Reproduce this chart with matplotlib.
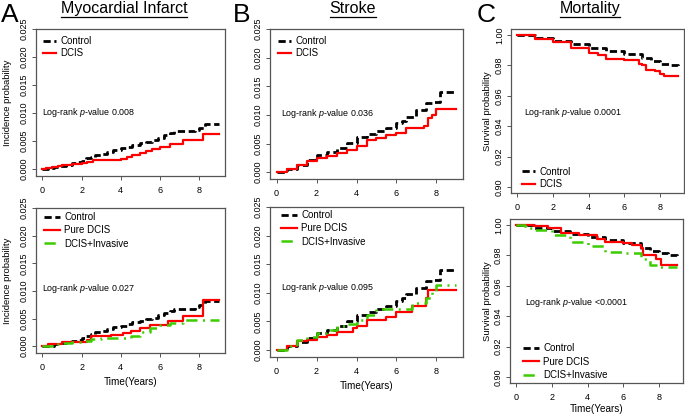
import matplotlib
matplotlib.use("Agg")
import matplotlib.pyplot as plt
from matplotlib.lines import Line2D

plt.rcParams['font.family'] = ['Liberation Sans', 'DejaVu Sans']
plt.rcParams['mathtext.fontset'] = 'custom'
plt.rcParams['mathtext.rm'] = 'Liberation Sans'
plt.rcParams['mathtext.it'] = 'Liberation Sans:italic'

# ---------------- data (step curves) ----------------
# A: Myocardial infarct, top
mi_ctrl_t = [0, 0.3, 0.6, 0.9, 1.2, 1.5, 1.8, 2.0, 2.2, 2.5, 2.7, 3.0, 3.3, 3.6, 4.0, 4.3, 4.6, 5.0, 5.3, 5.6, 5.9, 6.2, 6.5, 6.7, 7.8, 8.0, 8.3, 9.0]
mi_ctrl_v = [0, 0.0001, 0.0003, 0.0006, 0.0008, 0.0010, 0.0012, 0.0015, 0.0019, 0.0022, 0.0025, 0.0027, 0.0031, 0.0034, 0.0037, 0.0040, 0.0043, 0.0046, 0.0049, 0.0051, 0.0056, 0.0060, 0.0064, 0.0068, 0.0070, 0.0074, 0.0081, 0.0081]
mi_dcis_t = [0, 0.2, 0.5, 0.8, 1.0, 1.5, 2.0, 2.3, 2.6, 3.5, 4.0, 4.3, 4.6, 5.0, 5.3, 5.6, 6.0, 6.5, 7.2, 8.2, 9.0]
mi_dcis_v = [0, 0.0002, 0.0004, 0.0006, 0.0008, 0.0009, 0.0010, 0.0012, 0.0016, 0.0016, 0.0017, 0.0022, 0.0025, 0.0029, 0.0033, 0.0036, 0.0039, 0.0044, 0.0051, 0.0063, 0.0063]
# A bottom
mi_pure_t = [0, 0.3, 1.0, 2.3, 2.5, 3.5, 4.1, 4.5, 5.0, 5.5, 6.4, 7.2, 8.2, 9.0]
mi_pure_v = [0, 0.0004, 0.0007, 0.0012, 0.0018, 0.0021, 0.0024, 0.0027, 0.0033, 0.0038, 0.0045, 0.0054, 0.0083, 0.0083]
mi_inv_t = [0, 0.5, 1.0, 1.5, 2.0, 2.5, 3.0, 4.5, 5.0, 5.5, 6.0, 6.5, 7.2, 9.0]
mi_inv_v = [0, 0.0003, 0.0006, 0.0008, 0.0010, 0.0013, 0.0015, 0.0018, 0.0026, 0.0033, 0.0039, 0.0042, 0.0048, 0.0048]

# B: Stroke
st_ctrl_t = [0, 0.5, 1.0, 1.5, 2.0, 2.5, 3.0, 3.5, 4.0, 4.5, 5.0, 5.5, 6.0, 6.3, 6.5, 7.0, 7.5, 7.9, 8.2, 9.0]
st_ctrl_v = [0, 0.0006, 0.0013, 0.0021, 0.0030, 0.0035, 0.0042, 0.0051, 0.0061, 0.0066, 0.0071, 0.0077, 0.0085, 0.0090, 0.0097, 0.0109, 0.0120, 0.0123, 0.0140, 0.0140]
st_dcis_t = [0, 0.5, 1.0, 1.5, 2.0, 2.5, 3.0, 3.5, 4.0, 4.5, 5.0, 5.5, 6.0, 6.5, 7.4, 7.6, 7.8, 8.0, 9.0]
st_dcis_v = [0, 0.0006, 0.0013, 0.0019, 0.0025, 0.0029, 0.0034, 0.0038, 0.0045, 0.0056, 0.0059, 0.0065, 0.0069, 0.0077, 0.0080, 0.0094, 0.0100, 0.0110, 0.0110]
st_pure_t = [0, 0.5, 1.0, 1.5, 2.0, 2.5, 3.0, 3.8, 4.0, 4.5, 5.5, 6.0, 6.8, 7.5, 7.6, 9.0]
st_pure_v = [0, 0.0006, 0.0015, 0.0018, 0.0022, 0.0026, 0.0032, 0.0038, 0.0041, 0.0053, 0.0058, 0.0067, 0.0076, 0.0091, 0.0105, 0.0105]
st_inv_t = [0, 0.5, 1.0, 1.5, 2.0, 2.5, 3.0, 3.5, 4.0, 4.5, 5.0, 6.0, 6.8, 7.5, 7.8, 8.0, 9.0]
st_inv_v = [0, 0.0007, 0.0018, 0.0023, 0.0029, 0.0034, 0.0041, 0.0046, 0.0053, 0.0061, 0.0072, 0.0072, 0.0082, 0.0091, 0.0102, 0.0114, 0.0114]

# C: Mortality (survival probability)
mo_ctrl_t = [0, 1.0, 2.0, 3.0, 4.0, 5.0, 6.0, 7.0, 7.5, 8.0, 8.5, 9.0]
mo_ctrl_v = [1.0, 0.998, 0.996, 0.994, 0.9917, 0.9897, 0.9877, 0.985, 0.983, 0.981, 0.980, 0.979]
mo_dcis_t = [0, 1.0, 2.0, 3.0, 4.0, 4.5, 5.0, 6.0, 6.8, 7.0, 7.2, 7.7, 8.0, 8.2, 9.0]
mo_dcis_v = [1.0, 0.9976, 0.9954, 0.9914, 0.988, 0.9866, 0.9844, 0.9833, 0.981, 0.980, 0.9772, 0.9763, 0.9746, 0.973, 0.973]
mo_ctrl2_t = [0, 1.0, 2.0, 3.0, 4.0, 5.0, 6.0, 7.0, 7.5, 8.0, 8.5, 9.0]
mo_ctrl2_v = [1.0, 0.998, 0.9963, 0.9943, 0.9923, 0.990, 0.988, 0.985, 0.983, 0.9813, 0.980, 0.979]
mo_pure_t = [0, 1.0, 1.8, 2.5, 3.5, 4.5, 5.0, 6.0, 6.5, 7.0, 7.1, 7.8, 8.1, 9.0]
mo_pure_v = [1.0, 0.9993, 0.9978, 0.995, 0.9934, 0.9905, 0.989, 0.988, 0.9868, 0.9846, 0.980, 0.9774, 0.9736, 0.9736]
mo_inv_t = [0, 0.5, 1.0, 2.0, 3.0, 4.0, 5.0, 6.0, 7.0, 7.5, 8.0, 9.0]
mo_inv_v = [1.0, 0.9978, 0.9967, 0.9934, 0.989, 0.9862, 0.9824, 0.9813, 0.9774, 0.9736, 0.9725, 0.9725]

pvals = ["0.008", "0.027", "0.036", "0.095", "0.0001", "<0.0001"]
titles = ["Myocardial Infarct", "Stroke", "Mortality"]
letters = ["A", "B", "C"]

# ---------------- layout ----------------
W, H = 685, 417
fig = plt.figure(figsize=(W / 100, H / 100), dpi=100)

def box(l, r, t, b):
    return [l / W, 1 - b / H, (r - l) / W, (b - t) / H]

BLACK = 'black'
RED = '#ff0000'
GREEN = '#3ccc00'
SPINE = '#555555'

def style(ax, ylim, yticks, fmt):
    ax.set_xlim(-0.33, 9.33)
    ax.set_ylim(*ylim)
    ax.set_xticks([0, 2, 4, 6, 8])
    ax.set_yticks(yticks)
    ax.set_yticklabels([fmt % v for v in yticks], rotation=90, va='center')
    ax.tick_params(axis='both', labelsize=6.5, length=3, width=0.7, color=SPINE, direction='out', pad=2)
    ax.tick_params(axis='x', pad=4)
    for s in ax.spines.values():
        s.set_color(SPINE)
        s.set_linewidth(0.9)

def ctrl(ax, t, v, label="Control"):
    ax.step(t, v, where='post', color=BLACK, lw=2.0, ls=(0, (2.6, 1.3)), label=label)

def red(ax, t, v, label):
    ax.step(t, v, where='post', color=RED, lw=1.6, ls='-', label=label)

def green(ax, t, v, label="DCIS+Invasive"):
    ax.step(t, v, where='post', color=GREEN, lw=1.8, ls=(0, (4.5, 2.2, 0.8, 2.2)), label=label)

def legend(ax, loc, anchor, hl, ls):
    ax.legend(loc=loc, bbox_to_anchor=anchor, frameon=False, fontsize=7,
              handlelength=hl, handletextpad=0.5, labelspacing=ls,
              borderaxespad=0.0, borderpad=0.0)

def logrank(ax, x, y, p):
    ax.text(x, y, "Log-rank $\\it{p}$-value " + p, fontsize=6.4, ha='left', va='center')

inc_ticks = [0.0, 0.005, 0.010, 0.015, 0.020, 0.025]
surv_ticks = [0.90, 0.92, 0.94, 0.96, 0.98, 1.00]

# A top
axA1 = fig.add_axes(box(36, 225, 29, 176))
ctrl(axA1, mi_ctrl_t, mi_ctrl_v)
red(axA1, mi_dcis_t, mi_dcis_v, "DCIS")
style(axA1, (-0.00125, 0.025), inc_ticks, "%.3f")
legend(axA1, 'upper left', (7 / 189, 1 - 7 / 147), 1.3, 0.25)
logrank(axA1, 0.0, 0.0101, pvals[0])
axA1.set_ylabel("Incidence probability", fontsize=6.8)
axA1.yaxis.set_label_coords(-24 / 189, 0.5)

# A bottom
axA2 = fig.add_axes(box(36, 225, 208, 353))
ctrl(axA2, mi_ctrl_t, mi_ctrl_v)
red(axA2, mi_pure_t, mi_pure_v, "Pure DCIS")
green(axA2, mi_inv_t, mi_inv_v)
style(axA2, (-0.00124, 0.0245), inc_ticks, "%.3f")
legend(axA2, 'upper left', (8 / 189, 1 - 4 / 145), 1.6, 0.35)
logrank(axA2, 0.0, 0.0104, pvals[1])
axA2.set_ylabel("Incidence probability", fontsize=6.8)
axA2.yaxis.set_label_coords(-24 / 189, 0.5)
axA2.set_xlabel("Time(Years)", fontsize=7.2, labelpad=4)

# B top
axB1 = fig.add_axes(box(270, 463, 29, 179))
ctrl(axB1, st_ctrl_t, st_ctrl_v)
red(axB1, st_dcis_t, st_dcis_v, "DCIS")
style(axB1, (-0.0012, 0.0247), inc_ticks, "%.3f")
legend(axB1, 'upper left', (8 / 193, 1 - 7 / 150), 1.3, 0.25)
logrank(axB1, 0.2, 0.0103, pvals[2])

# B bottom
axB2 = fig.add_axes(box(270, 463, 207, 357))
ctrl(axB2, st_ctrl_t, st_ctrl_v)
red(axB2, st_pure_t, st_pure_v, "Pure DCIS")
green(axB2, st_inv_t, st_inv_v)
style(axB2, (-0.00124, 0.0249), inc_ticks, "%.3f")
legend(axB2, 'upper left', (11 / 193, 1 - 3 / 150), 1.6, 0.35)
logrank(axB2, 0.2, 0.0110, pvals[3])
axB2.set_xlabel("Time(Years)", fontsize=7.2, labelpad=4)

# C top
axC1 = fig.add_axes(box(511, 684, 29, 193))
ctrl(axC1, mo_ctrl_t, mo_ctrl_v)
red(axC1, mo_dcis_t, mo_dcis_v, "DCIS")
style(axC1, (0.896, 1.004), surv_ticks, "%.2f")
legend(axC1, 'lower left', (11 / 173, 4 / 164), 1.3, 0.25)
logrank(axC1, 0.4, 0.949, pvals[4])
axC1.set_ylabel("Survival probability", fontsize=6.8)
axC1.yaxis.set_label_coords(-19 / 173, 0.5)

# C bottom
axC2 = fig.add_axes(box(510, 683, 219, 383))
ctrl(axC2, mo_ctrl2_t, mo_ctrl2_v)
red(axC2, mo_pure_t, mo_pure_v, "Pure DCIS")
green(axC2, mo_inv_t, mo_inv_v)
style(axC2, (0.896, 1.004), surv_ticks, "%.2f")
legend(axC2, 'lower left', (13 / 173, 3 / 164), 1.6, 0.35)
logrank(axC2, 0.5, 0.949, pvals[5])
axC2.set_ylabel("Survival probability", fontsize=6.8)
axC2.yaxis.set_label_coords(-18 / 173, 0.5)
axC2.set_xlabel("Time(Years)", fontsize=7.2, labelpad=2)

# titles (underlined) and panel letters
title_x = [124, 353, 590]
letter_x = [1, 233, 477]
for tx, lx, ttl, let in zip(title_x, letter_x, titles, letters):
    fig.text(lx / W, 1 - 15 / H, let, fontsize=19, ha='left', va='center')
    fig.text(tx / W, 1 - 8.5 / H, ttl, fontsize=11.5, ha='center', va='center')

fig.canvas.draw()
r = fig.canvas.get_renderer()
for t in fig.texts:
    if t.get_text() in titles:
        bb = t.get_window_extent(r)
        y = (H - 16.5) / H
        fig.add_artist(Line2D([bb.x0 / W, bb.x1 / W], [y, y], color='black', lw=0.9,
                              transform=fig.transFigure))

fig.savefig("out.png", dpi=100)
